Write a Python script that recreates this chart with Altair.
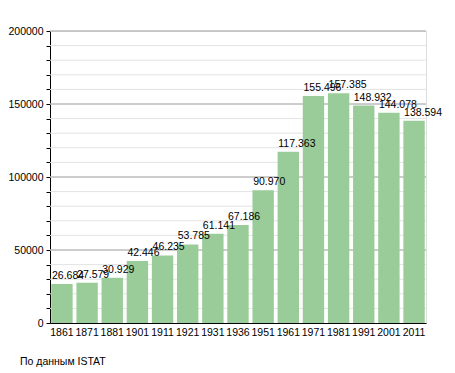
import altair as alt
import pandas as pd

years = ["1861", "1871", "1881", "1901", "1911", "1921", "1931", "1936",
         "1951", "1961", "1971", "1981", "1991", "2001", "2011"]
population = [26684, 27579, 30929, 42446, 46235, 53785, 61141, 67186,
              90970, 117363, 155496, 157385, 148932, 144078, 138594]
caption = "По данным  ISTAT"

df = pd.DataFrame({"year": years, "pop": population})
df["label"] = [f"{v:,}".replace(",", ".") for v in population]

FONT = "Liberation Sans"
FS = 10.5

yscale = alt.Scale(domain=[0, 200000], nice=False)
yaxis = alt.Axis(values=list(range(0, 200001, 10000)), grid=False,
                 labelExpr="datum.value % 50000 == 0 ? format(datum.value, 'd') : ''",
                 labelOverlap=False, labelBound=False,
                 domainColor="black", tickColor="black",
                 tickSize=4, labelColor="black", labelFont=FONT,
                 labelFontSize=FS, labelPadding=3)

x = alt.X("year:N", sort=years, title=None,
          scale=alt.Scale(paddingInner=0.15, paddingOuter=0.05),
          axis=alt.Axis(labelAngle=0, ticks=False, domainColor="black",
                        labelColor="black", labelFont=FONT, labelFontSize=FS,
                        labelPadding=4, grid=False, labelOverlap=False))

minor = alt.Chart(pd.DataFrame({"v": list(range(10000, 200001, 10000))})).mark_rule(
    color="#e3e3e3", strokeWidth=1).encode(
    y=alt.Y("v:Q", scale=yscale, axis=yaxis, title=None))
major = alt.Chart(pd.DataFrame({"v": [50000, 100000, 150000, 200000]})).mark_rule(
    color="#a8a8a8", strokeWidth=1).encode(
    y=alt.Y("v:Q", scale=yscale, axis=yaxis, title=None))

bars = alt.Chart(df).mark_bar(color="#99CC99").encode(
    x=x,
    y=alt.Y("pop:Q", scale=yscale, axis=yaxis, title=None),
)

labels = alt.Chart(df).mark_text(align="left", baseline="alphabetic", dx=-10, dy=-5,
                                 font=FONT, fontSize=FS, color="black").encode(
    x=alt.X("year:N", sort=years),
    y=alt.Y("pop:Q", scale=yscale, axis=yaxis, title=None), text="label:N")

cap = alt.Chart(pd.DataFrame({"t": [caption]})).mark_text(
    align="left", baseline="middle", font=FONT, fontSize=FS, color="black").encode(
    x=alt.value(-30), y=alt.value(331), text="t:N")

chart = alt.layer(minor, major, bars, labels, cap).resolve_scale(y="shared").properties(
    width=376, height=292,
    autosize=alt.AutoSizeParams(type="none"),
    padding={"left": 42, "top": 23, "right": 21, "bottom": 50},
).configure_view(stroke=None).configure(background="white")

chart.save("out.html", embed_options={"renderer": "svg", "actions": False})
